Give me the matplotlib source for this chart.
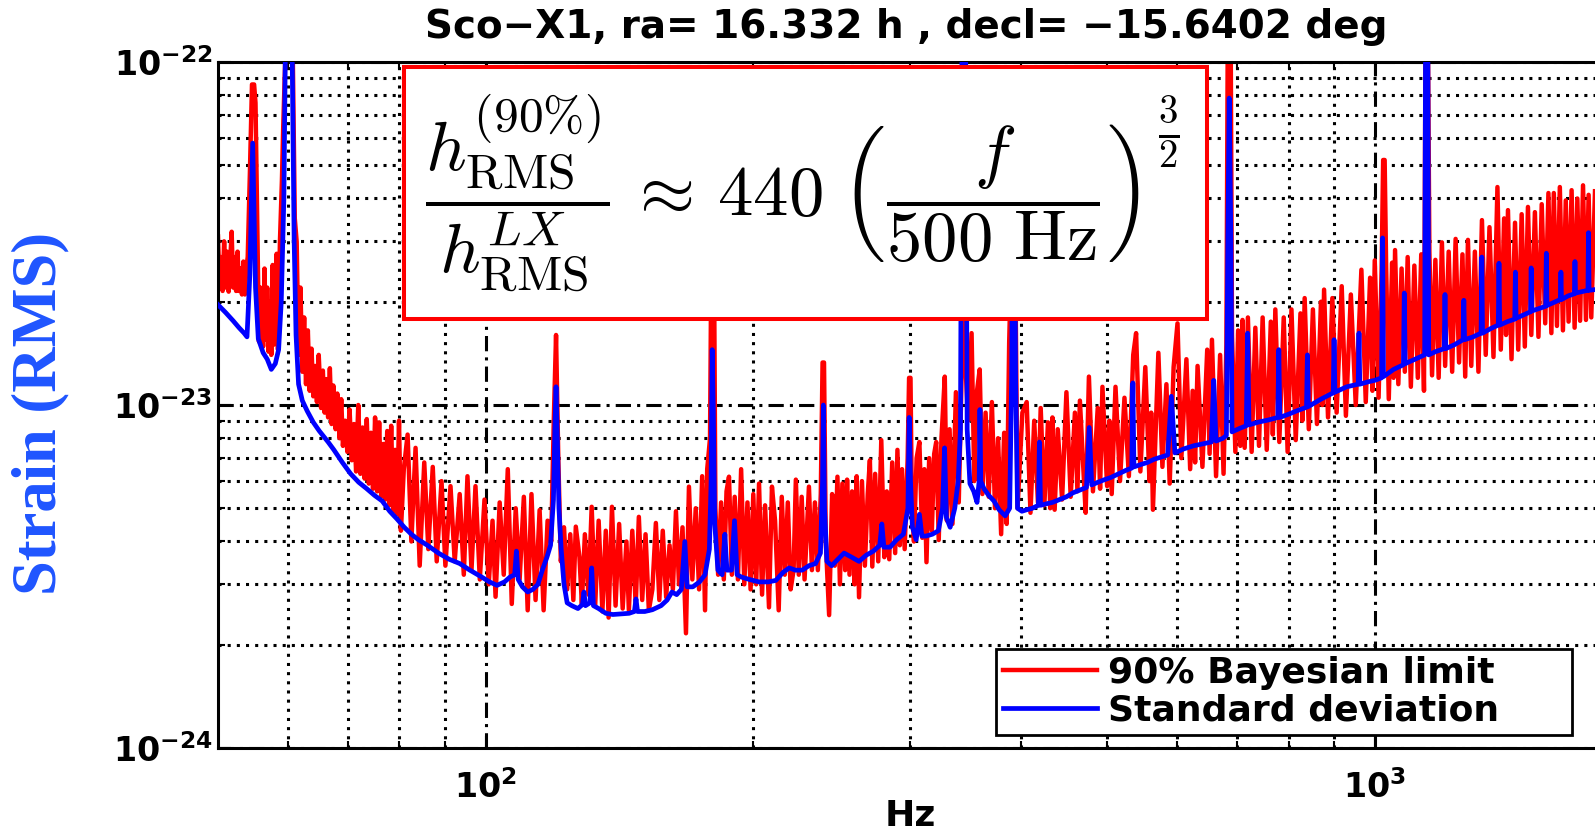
import numpy as np
import matplotlib
matplotlib.use('Agg')
import matplotlib.pyplot as plt
from matplotlib.ticker import FixedLocator, FuncFormatter, NullFormatter
from matplotlib.patches import Rectangle

plt.rcParams['font.family'] = 'DejaVu Sans'
plt.rcParams['mathtext.fontset'] = 'dejavusans'

# strain values are stored in units of 1e-24
UNIT = 1e-24

# Standard deviation (blue): (frequency Hz, strain / 1e-24)
std_dev = [
    (50.0, 19.6), (51.0, 18.6), (52.0, 17.6), (52.8, 16.8), (53.5, 16.2), (53.9, 15.8),
    (54.3, 24.0), (54.7, 58.0), (55.1, 22.0), (55.5, 15.6), (56.2, 14.2), (56.8, 13.6),
    (57.4, 12.7), (58.0, 13.2), (58.5, 14.5), (58.9, 20.0), (59.3, 40.0), (59.6, 150.0),
    (60.0, 300.0), (60.5, 150.0), (60.9, 30.0), (61.2, 16.0), (61.6, 11.5), (62.2, 10.3),
    (63.0, 9.6), (64.0, 8.9), (65.0, 8.4), (66.5, 7.8), (67.5, 7.4), (69.0, 6.8),
    (70.5, 6.3), (72.0, 5.95), (73.5, 5.7), (75.0, 5.45), (76.5, 5.25), (78.0, 4.9),
    (79.5, 4.65), (81.0, 4.4), (82.5, 4.2), (84.0, 4.05), (86.0, 3.9), (88.5, 3.7),
    (91.0, 3.55), (93.5, 3.45), (96.0, 3.3), (99.0, 3.15), (101.0, 3.05), (103.0, 2.98),
    (105.0, 3.05), (106.5, 3.15), (107.8, 3.2), (108.3, 3.75), (108.8, 3.1), (110.0, 2.95),
    (111.5, 2.85), (113.0, 2.9), (114.5, 3.0), (115.8, 3.3), (117.2, 3.6), (118.3, 3.9),
    (119.2, 5.3), (119.7, 9.0), (120.0, 11.3), (120.4, 8.0), (120.9, 5.0), (121.6, 3.8),
    (122.5, 3.0), (123.5, 2.65), (125.0, 2.6), (127.0, 2.55), (128.5, 2.62), (129.0, 2.85),
    (129.5, 2.6), (131.0, 2.65), (131.6, 3.35), (132.2, 2.6), (134.0, 2.55), (136.5, 2.47),
    (139.0, 2.45), (142.0, 2.46), (145.0, 2.47), (147.0, 2.5), (147.6, 2.72), (148.2, 2.5),
    (151.0, 2.5), (154.0, 2.53), (157.5, 2.6), (160.0, 2.7), (162.0, 2.85), (164.0, 2.8),
    (166.0, 2.9), (167.5, 4.0), (168.5, 2.95), (171.0, 2.95), (174.0, 3.05), (176.5, 3.2),
    (178.5, 3.8), (179.3, 6.0), (179.8, 14.5), (180.3, 10.0), (181.0, 4.5), (182.5, 3.3),
    (184.5, 3.2), (185.8, 4.2), (186.8, 3.3), (189.0, 3.3), (190.5, 4.6), (191.8, 3.2),
    (194.0, 3.15), (198.0, 3.1), (203.0, 3.05), (208.0, 3.05), (212.0, 3.08), (216.0, 3.25),
    (219.5, 3.35), (223.0, 3.3), (227.0, 3.3), (231.0, 3.4), (235.0, 3.45), (238.0, 3.7),
    (239.3, 6.0), (239.8, 10.0), (240.5, 5.0), (242.0, 3.5), (245.0, 3.4), (249.0, 3.55),
    (253.0, 3.7), (258.0, 3.6), (263.0, 3.5), (268.0, 3.65), (273.0, 3.75), (277.5, 3.9),
    (279.0, 4.5), (280.5, 3.85), (285.0, 3.85), (290.0, 4.05), (295.0, 4.2), (298.5, 5.0),
    (299.5, 9.2), (300.5, 6.0), (302.0, 4.4), (305.0, 4.05), (307.5, 4.8), (309.5, 4.15),
    (313.0, 4.15), (318.0, 4.2), (323.0, 4.3), (326.5, 5.0), (328.2, 7.5), (329.8, 4.7),
    (333.0, 4.4), (337.0, 5.0), (340.0, 6.0), (342.0, 8.5), (343.5, 150.0), (345.0, 300.0),
    (346.5, 150.0), (348.0, 8.5), (350.5, 5.9), (354.0, 5.6), (357.0, 5.2), (359.0, 6.0),
    (359.7, 9.7), (360.5, 6.0), (363.5, 5.7), (368.0, 5.45), (373.0, 5.25), (378.0, 4.95),
    (384.0, 4.75), (388.5, 5.0), (390.5, 12.0), (391.5, 40.0), (393.5, 40.0), (394.5, 12.0),
    (396.5, 5.0), (401.0, 4.9), (406.0, 4.95), (412.0, 5.0), (418.5, 5.1), (419.6, 7.8),
    (420.8, 5.1), (427.0, 5.15), (434.0, 5.2), (442.0, 5.3), (450.0, 5.4), (458.0, 5.55),
    (466.0, 5.65), (474.0, 5.75), (477.4, 8.6), (480.5, 5.85), (488.0, 5.95), (496.0, 6.05),
    (505.0, 6.15), (515.0, 6.3), (525.0, 6.45), (533.0, 6.55), (534.5, 11.6), (536.0, 6.6),
    (545.0, 6.7), (555.0, 6.8), (565.0, 6.95), (575.0, 7.05), (585.0, 7.15), (590.5, 10.6),
    (596.0, 7.25), (610.0, 7.45), (625.0, 7.6), (640.0, 7.7), (655.0, 7.8), (659.0, 11.8),
    (663.0, 7.85), (675.0, 8.0), (681.0, 8.15), (683.5, 30.0), (686.0, 78.5), (689.0, 30.0),
    (691.0, 8.35), (705.0, 8.55), (717.0, 8.7), (719.5, 16.2), (722.0, 8.75), (738.0, 8.9),
    (760.0, 9.05), (778.0, 9.2), (780.0, 14.5), (782.0, 9.2), (800.0, 9.4), (820.0, 9.65),
    (838.0, 9.85), (840.0, 14.0), (842.0, 9.9), (870.0, 10.4), (898.0, 10.85), (900.0, 15.5),
    (902.0, 10.9), (930.0, 11.3), (958.0, 11.5), (960.0, 16.2), (962.0, 11.5), (985.0, 11.7),
    (1000.0, 11.8), (1018.0, 12.0), (1020.5, 30.7), (1023.0, 12.1), (1050.0, 12.7),
    (1077.0, 13.1), (1079.5, 21.2), (1082.0, 13.2), (1110.0, 13.6), (1138.0, 14.0),
    (1141.0, 150.0), (1147.0, 150.0), (1150.0, 14.0), (1170.0, 14.3), (1197.0, 14.6),
    (1199.5, 21.0), (1202.0, 14.6), (1230.0, 15.0), (1257.0, 15.5), (1259.5, 20.2),
    (1262.0, 15.5), (1290.0, 15.8), (1317.0, 16.2), (1319.5, 27.0), (1322.0, 16.2),
    (1350.0, 16.7), (1377.0, 17.1), (1379.5, 25.9), (1382.0, 17.1), (1410.0, 17.5),
    (1437.0, 17.8), (1439.5, 24.4), (1442.0, 17.9), (1470.0, 18.3), (1497.0, 18.7),
    (1499.5, 25.1), (1502.0, 18.8), (1530.0, 19.1), (1557.0, 19.4), (1559.5, 27.7),
    (1562.0, 19.5), (1590.0, 19.9), (1617.0, 20.3), (1619.5, 24.4), (1622.0, 20.3),
    (1650.0, 20.8), (1677.0, 21.1), (1679.5, 26.2), (1682.0, 21.2), (1710.0, 21.4),
    (1737.0, 21.6), (1739.5, 31.8), (1742.0, 21.6), (1769.0, 21.7),
]

# 90% Bayesian limit (red): (frequency Hz, strain / 1e-24)
bayes_90 = [
    (50.0, 31.0), (50.2, 22.0), (50.4, 27.0), (50.6, 21.5), (50.8, 30.0), (51.0, 22.0),
    (51.2, 28.0), (51.4, 21.4), (51.6, 26.0), (51.8, 32.0), (52.0, 22.0), (52.2, 27.0),
    (52.4, 21.5), (52.6, 28.0), (52.8, 21.5), (53.0, 25.0), (53.2, 21.0), (53.4, 26.2),
    (53.6, 21.0), (53.8, 25.0), (54.0, 27.0), (54.3, 47.0), (54.6, 86.0), (54.9, 86.0),
    (55.1, 76.0), (55.3, 40.0), (55.6, 15.3), (55.8, 22.0), (56.0, 18.8), (56.2, 14.8),
    (56.4, 25.0), (56.6, 15.5), (56.8, 22.0), (57.0, 14.3), (57.2, 20.0), (57.4, 14.0),
    (57.6, 25.6), (57.8, 15.0), (58.0, 22.0), (58.2, 27.6), (58.4, 14.5), (58.7, 30.0),
    (59.0, 45.0), (59.2, 64.6), (59.5, 100.0), (60.0, 300.0), (60.5, 200.0), (61.0, 35.0),
    (61.3, 29.9), (61.6, 14.0), (61.9, 22.0), (62.2, 12.5), (62.5, 18.0), (62.8, 11.5),
    (63.1, 16.5), (63.4, 11.0), (63.7, 14.6), (64.0, 10.6), (64.3, 13.0), (64.6, 10.2),
    (64.9, 14.0), (65.3, 9.8), (65.6, 12.6), (65.9, 9.5), (66.2, 11.9), (66.5, 9.2),
    (66.8, 12.8), (67.1, 8.8), (67.4, 11.4), (67.8, 8.5), (68.1, 10.8), (68.5, 8.0),
    (68.8, 10.4), (69.1, 7.6), (69.5, 9.0), (69.9, 7.3), (70.3, 9.7), (70.7, 6.9),
    (71.1, 8.8), (71.5, 6.4), (71.9, 10.0), (72.3, 6.3), (72.7, 8.6), (73.1, 6.1),
    (73.5, 9.1), (73.9, 5.9), (74.3, 8.3), (74.7, 5.7), (75.1, 9.2), (75.5, 5.6),
    (75.9, 8.9), (76.3, 5.4), (76.7, 7.7), (77.1, 5.3), (77.5, 8.4), (77.9, 5.1),
    (78.3, 8.7), (78.7, 4.9), (79.1, 7.4), (79.5, 4.8), (79.9, 9.0), (80.3, 4.3),
    (80.9, 6.5), (81.7, 8.2), (82.5, 4.0), (83.4, 7.5), (84.3, 3.4), (85.3, 6.8),
    (86.2, 3.8), (87.2, 6.6), (88.1, 3.5), (89.2, 6.0), (90.1, 3.4), (91.3, 5.8),
    (92.3, 3.5), (93.5, 5.5), (94.5, 3.2), (95.4, 6.2), (96.4, 3.3), (97.4, 5.8),
    (98.5, 3.1), (99.7, 5.3), (100.8, 3.0), (101.8, 4.6), (102.6, 2.76), (103.7, 5.2),
    (104.8, 3.2), (105.9, 6.5), (107.0, 2.63), (108.1, 5.0), (109.2, 3.1), (110.4, 5.4),
    (111.5, 2.52), (112.6, 5.5), (113.8, 2.7), (115.0, 4.94), (116.2, 2.52), (117.4, 4.6),
    (118.5, 4.0), (119.3, 9.0), (120.0, 16.0), (120.7, 7.0), (121.5, 3.5), (122.5, 4.4),
    (123.5, 2.9), (124.5, 4.2), (125.5, 2.7), (126.3, 4.42), (127.5, 3.6), (128.3, 2.63),
    (129.3, 4.2), (130.5, 2.8), (131.6, 5.05), (132.8, 2.6), (134.0, 4.6), (135.3, 2.5),
    (136.5, 4.3), (137.5, 2.4), (138.7, 5.05), (140.0, 2.6), (141.3, 4.5), (142.6, 2.55),
    (144.0, 4.0), (144.9, 2.52), (146.2, 4.3), (147.5, 2.6), (148.7, 4.72), (150.0, 2.7),
    (151.3, 4.2), (152.6, 2.52), (154.0, 2.9), (155.4, 4.53), (156.8, 2.7), (158.2, 4.3),
    (159.6, 2.75), (161.0, 3.9), (162.4, 2.9), (163.7, 4.9), (165.0, 3.0), (166.5, 4.4),
    (168.0, 2.16), (169.3, 5.78), (170.8, 3.1), (172.3, 5.0), (173.8, 2.9), (175.2, 6.2),
    (176.5, 2.52), (177.5, 6.5), (178.8, 8.0), (179.6, 40.0), (180.5, 40.0), (181.3, 5.0),
    (182.6, 3.2), (184.0, 5.2), (185.3, 3.1), (186.6, 5.6), (187.8, 6.18), (189.2, 3.2),
    (190.6, 5.4), (192.2, 3.1), (193.8, 6.5), (195.4, 3.0), (197.0, 5.2), (198.6, 2.9),
    (200.0, 5.5), (201.5, 3.0), (203.0, 5.9), (204.6, 2.8), (206.2, 5.1), (208.3, 2.57),
    (209.9, 5.78), (211.6, 4.6), (213.6, 2.52), (215.3, 5.4), (217.0, 3.2), (218.7, 5.2),
    (220.3, 2.9), (222.0, 3.3), (223.3, 6.06), (225.0, 3.2), (226.7, 5.4), (228.4, 3.1),
    (231.0, 5.78), (232.8, 3.3), (234.6, 5.2), (236.4, 3.3), (238.2, 5.5), (239.3, 13.3),
    (240.2, 13.3), (241.3, 4.0), (243.4, 2.44), (245.3, 5.5), (247.0, 3.4), (248.7, 6.18),
    (250.3, 3.0), (251.9, 5.9), (253.7, 3.3), (255.0, 6.06), (256.6, 3.2), (258.3, 5.6),
    (260.0, 3.0), (261.4, 6.2), (263.0, 2.75), (265.0, 6.0), (267.0, 3.4), (269.0, 5.5),
    (270.5, 6.9), (272.2, 3.38), (274.2, 6.3), (276.4, 3.5), (278.6, 7.9), (280.8, 3.6),
    (282.6, 5.6), (284.4, 3.55), (286.6, 6.8), (288.8, 3.7), (290.5, 7.4), (292.3, 3.9),
    (294.0, 6.5), (296.0, 3.8), (298.3, 7.0), (299.4, 12.0), (300.5, 12.0), (301.6, 5.0),
    (303.2, 4.0), (305.3, 7.0), (307.5, 7.8), (309.8, 4.1), (311.5, 6.5), (313.2, 3.48),
    (315.4, 7.0), (317.6, 4.3), (319.5, 7.2), (321.2, 7.8), (323.3, 4.04), (325.6, 8.0),
    (328.4, 12.1), (330.2, 4.6), (332.5, 8.5), (335.0, 4.5), (338.0, 10.9), (340.5, 5.2),
    (343.0, 12.0), (345.0, 60.0), (347.0, 12.0), (349.0, 9.0), (352.0, 16.2), (354.5, 6.0),
    (357.0, 11.0), (359.5, 12.7), (362.0, 5.5), (365.0, 9.5), (368.0, 5.4), (371.0, 10.2),
    (374.0, 5.0), (377.0, 8.0), (380.0, 4.2), (383.0, 8.3), (385.5, 4.5), (388.0, 15.2),
    (390.5, 30.0), (392.0, 60.0), (394.0, 30.0), (396.5, 5.0), (401.5, 9.5), (406.0, 10.2),
    (410.0, 4.85), (414.0, 9.0), (418.0, 5.2), (421.0, 9.8), (425.0, 5.1), (429.0, 8.9),
    (431.5, 5.0), (434.0, 9.2), (436.5, 4.95), (440.0, 8.5), (445.0, 5.3), (450.0, 10.9),
    (455.0, 5.4), (460.0, 9.5), (463.0, 5.6), (466.0, 10.3), (469.5, 7.0), (473.0, 4.85),
    (477.0, 12.1), (482.0, 5.6), (488.0, 9.8), (491.0, 5.7), (494.0, 11.3), (500.0, 5.8),
    (503.0, 9.0), (506.0, 5.5), (511.0, 11.3), (517.0, 6.0), (523.0, 10.5), (529.0, 6.2),
    (535.0, 14.0), (539.0, 16.2), (545.0, 6.4), (552.0, 12.9), (558.0, 6.0), (560.5, 9.5),
    (563.0, 4.95), (571.0, 14.2), (577.0, 6.6), (583.0, 11.5), (588.0, 5.9), (594.0, 12.9),
    (600.0, 17.3), (606.0, 7.0), (614.0, 13.6), (620.0, 6.5), (624.0, 11.0), (628.0, 6.8),
    (632.0, 13.0), (640.0, 6.6), (648.0, 14.5), (652.0, 7.2), (656.0, 15.5), (663.0, 6.2),
    (670.0, 14.0), (676.0, 6.3), (681.0, 15.0), (684.0, 200.0), (688.0, 200.0), (691.0, 16.0),
    (697.0, 7.3), (702.0, 16.5), (706.0, 7.6), (710.0, 17.7), (714.0, 7.5), (720.0, 18.0),
    (727.0, 7.3), (734.0, 16.8), (741.0, 7.6), (748.0, 18.0), (756.0, 7.4), (764.0, 17.5),
    (768.0, 8.2), (773.0, 19.0), (781.0, 7.8), (790.0, 18.0), (798.0, 7.3), (806.0, 19.0),
    (815.0, 7.9), (825.0, 18.5), (829.0, 9.0), (834.0, 20.5), (843.0, 8.5), (852.0, 19.0),
    (861.0, 8.8), (870.0, 20.0), (873.0, 10.0), (877.0, 21.7), (886.0, 9.2), (896.0, 20.5),
    (906.0, 9.5), (918.0, 22.2), (928.0, 9.3), (940.0, 21.0), (952.0, 10.0), (966.0, 24.8),
    (977.0, 10.2), (988.0, 23.5), (994.0, 11.0), (1000.0, 26.4), (1010.0, 10.5),
    (1018.0, 25.0), (1022.0, 51.8), (1026.0, 51.8), (1030.0, 25.0), (1037.0, 10.4),
    (1046.0, 26.0), (1050.0, 12.0), (1054.0, 28.3), (1063.0, 11.5), (1072.0, 25.0),
    (1081.0, 12.5), (1089.0, 27.0), (1098.0, 11.3), (1108.0, 25.5), (1118.0, 12.0),
    (1128.0, 27.5), (1136.0, 11.0), (1141.0, 150.0), (1147.0, 150.0), (1152.0, 28.0),
    (1160.0, 12.2), (1170.0, 26.5), (1180.0, 12.0), (1190.0, 29.8), (1200.0, 13.0),
    (1211.0, 28.0), (1222.0, 12.5), (1233.0, 30.5), (1244.0, 13.3), (1255.0, 27.5),
    (1264.0, 12.1), (1273.0, 30.3), (1284.0, 13.0), (1296.0, 28.0), (1308.0, 12.5),
    (1320.0, 34.6), (1333.0, 14.0), (1346.0, 33.0), (1360.0, 13.8), (1374.0, 43.2),
    (1386.0, 14.5), (1398.0, 35.0), (1405.0, 16.0), (1412.0, 37.0), (1425.0, 13.6),
    (1438.0, 34.0), (1450.0, 14.5), (1463.0, 36.0), (1475.0, 14.8), (1487.0, 37.8),
    (1500.0, 16.0), (1514.0, 36.5), (1528.0, 15.8), (1541.0, 38.5), (1555.0, 17.3),
    (1568.0, 41.5), (1580.0, 16.2), (1590.0, 41.5), (1603.0, 17.0), (1615.0, 43.2),
    (1628.0, 16.5), (1640.0, 39.5), (1652.0, 17.5), (1665.0, 42.3), (1678.0, 16.8),
    (1690.0, 40.0), (1702.0, 17.6), (1715.0, 43.7), (1728.0, 17.7), (1740.0, 41.0),
    (1752.0, 18.0), (1769.0, 42.0),
]

x_major = [100, 1000]
x_minor = [60, 70, 80, 90, 200, 300, 400, 500, 600, 700, 800, 900]
y_major = [1e-24, 1e-23, 1e-22]
y_minor = [2e-24, 3e-24, 4e-24, 5e-24, 6e-24, 7e-24, 8e-24, 9e-24,
           2e-23, 3e-23, 4e-23, 5e-23, 6e-23, 7e-23, 8e-23, 9e-23]

labels = ['90% Bayesian limit', 'Standard deviation']
title = 'Sco\u2212X1, ra= 16.332 h , decl= \u221215.6402 deg'
formula = (r'$\dfrac{h_{\mathrm{RMS}}^{(90\%)}}{h_{\mathrm{RMS}}^{L X}}'
           r'\,\approx\, 440\;\left(\dfrac{f}{500\ \mathrm{Hz}}\right)$')
exponent = r'$\frac{3}{2}$'

f_red, v_red = np.array(bayes_90).T
f_blue, v_blue = np.array(std_dev).T

fig = plt.figure(figsize=(15.95, 8.32), dpi=100)
ax = fig.add_axes([218 / 1595, 84 / 832, 1377 / 1595, 686 / 832])

ax.plot(f_red, v_red * UNIT, color='#ff0000', lw=3.2, label=labels[0], zorder=2)
ax.plot(f_blue, v_blue * UNIT, color='#0000ff', lw=3.4, label=labels[1], zorder=3)

ax.set_xscale('log')
ax.set_yscale('log')
ax.set_xlim(50, 1769)
ax.set_ylim(1e-24, 1e-22)

pow_fmt = FuncFormatter(lambda v, p: r'$\mathbf{10^{%d}}$' % int(round(np.log10(v))))
ax.xaxis.set_major_locator(FixedLocator(x_major))
ax.xaxis.set_minor_locator(FixedLocator(x_minor))
ax.yaxis.set_major_locator(FixedLocator(y_major))
ax.yaxis.set_minor_locator(FixedLocator(y_minor))
for axis in (ax.xaxis, ax.yaxis):
    axis.set_major_formatter(pow_fmt)
    axis.set_minor_formatter(NullFormatter())

ax.grid(True, which='major', color='k', linestyle=(0, (5, 2, 1, 2)), lw=2.2)
ax.grid(True, which='minor', color='k', linestyle=(0, (1, 2.0)), lw=2.2)

ax.tick_params(which='both', direction='in', top=True, right=False, width=1.5)
ax.tick_params(which='major', length=9)
ax.tick_params(which='minor', length=5)
ax.tick_params(axis='x', labelsize=24, pad=16)
ax.tick_params(axis='y', labelsize=24, pad=4)
for s in ('left', 'bottom', 'top'):
    ax.spines[s].set_linewidth(2.2)
ax.spines['right'].set_visible(False)

ax.set_title(title, fontsize=28, fontweight='bold', pad=17)
ax.set_xlabel('Hz', fontsize=26, fontweight='bold')
ax.xaxis.set_label_coords(0.503, -0.074)
ax.set_ylabel('Strain (RMS)', fontsize=45, fontweight='bold', color='#1f55ff',
              family='Liberation Serif')
ax.yaxis.set_label_coords(-0.108, 0.487)

# formula box
bx, by, bw, bh = 0.1351, 0.6254, 0.5832, 0.3673
ax.add_patch(Rectangle((bx, by), bw, bh, transform=ax.transAxes, facecolor='white',
                       edgecolor='#ff0000', lw=2.9, zorder=5, clip_on=False))
ax.text(0.6696, by + bh / 2, formula, transform=ax.transAxes, ha='right', va='center',
        fontsize=51, math_fontfamily='cm', zorder=6)
ax.text(0.683, 0.952, exponent, transform=ax.transAxes, ha='left', va='top',
        fontsize=40, math_fontfamily='cm', zorder=6)

leg = ax.legend(loc='lower left', bbox_to_anchor=(0.565, 0.019, 0.418, 0.124), mode='expand',
                prop=dict(weight='bold', size=26), fancybox=False, edgecolor='k', framealpha=1,
                borderpad=0.2, labelspacing=0.1, handlelength=2.6, handletextpad=0.3,
                borderaxespad=0)
leg.get_frame().set_linewidth(2.0)
leg.set_zorder(7)

fig.savefig('out.png', dpi=100)
